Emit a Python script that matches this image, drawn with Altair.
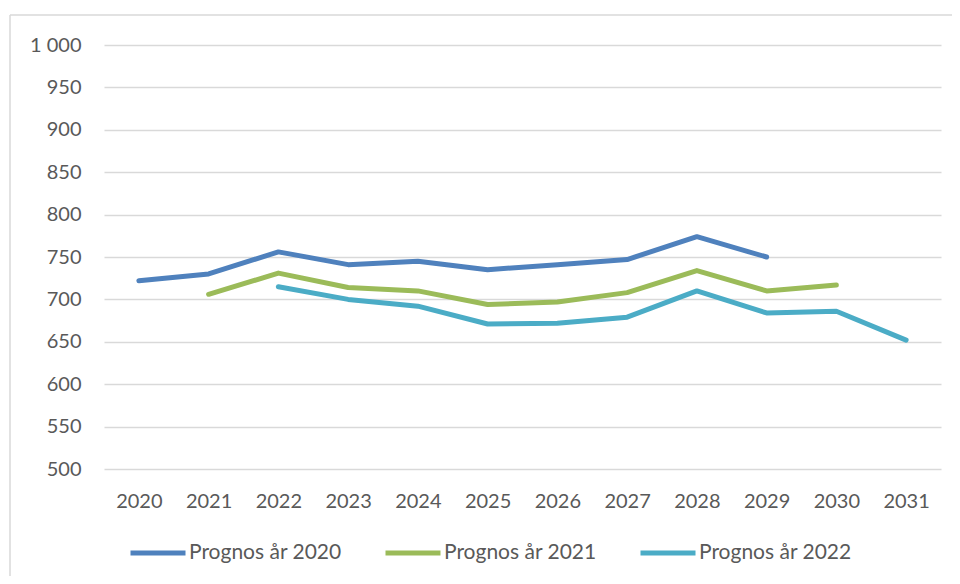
import altair as alt
import pandas as pd

years = ["2020", "2021", "2022", "2023", "2024", "2025", "2026", "2027", "2028", "2029", "2030", "2031"]
series_names = ["Prognos år 2020", "Prognos år 2021", "Prognos år 2022"]
prognos_2020 = [722, 730, 756, 741, 745, 735, 741, 747, 774, 750, None, None]
prognos_2021 = [None, 706, 731, 714, 710, 694, 697, 708, 734, 710, 717, None]
prognos_2022 = [None, None, 715, 700, 692, 671, 672, 679, 710, 684, 686, 652]
colors = ["#4F81BD", "#9BBB59", "#4BACC6"]

rows = []
for name, vals in zip(series_names, [prognos_2020, prognos_2021, prognos_2022]):
    for y, v in zip(years, vals):
        if v is not None:
            rows.append({"År": y, "Värde": v, "Serie": name})
df = pd.DataFrame(rows)

FONT = "Lato"
TXT = "#595959"
GRID = "#D9D9D9"

lines = alt.Chart(df).mark_line(
    strokeWidth=5, strokeCap="round", strokeJoin="round"
).encode(
    x=alt.X("År:O", sort=years,
            scale=alt.Scale(type="point", domain=years, padding=0.5),
            axis=alt.Axis(title=None, labelAngle=0, ticks=False, tickSize=0, domain=False,
                          grid=False, labelPadding=22, labelFontSize=20, labelFont=FONT,
                          labelColor=TXT, labelBaseline="top")),
    y=alt.Y("Värde:Q",
            scale=alt.Scale(domain=[500, 1000], nice=False, zero=False),
            axis=alt.Axis(title=None, values=list(range(500, 1001, 50)), ticks=False, tickSize=0,
                          domain=False, grid=True, gridColor=GRID, gridWidth=1.5,
                          labelPadding=23, labelFontSize=20, labelFont=FONT, labelColor=TXT,
                          labelExpr="replace(format(datum.value, ','), ',', ' ')")),
    color=alt.Color("Serie:N", sort=series_names,
                    scale=alt.Scale(domain=series_names, range=colors),
                    legend=alt.Legend(title=None, orient="none", legendX=24, legendY=478,
                                      direction="horizontal", symbolType="stroke",
                                      symbolSize=3025, symbolStrokeWidth=5, labelOffset=1,
                                      columnPadding=33, labelFontSize=21, labelFont=FONT,
                                      labelColor=TXT)),
)

frame = alt.Data(values=[{}])
border_top = alt.Chart(frame).mark_rule(stroke=GRID, strokeWidth=1.5).encode(
    x=alt.value(-94), x2=alt.value(1000), y=alt.value(-30)
)
border_left = alt.Chart(frame).mark_rule(stroke=GRID, strokeWidth=1.5).encode(
    x=alt.value(-94), y=alt.value(-30), y2=alt.value(700)
)

chart = alt.layer(border_top, border_left, lines).properties(
    width=837, height=424,
    autosize=alt.AutoSizeParams(type="none"),
    padding={"left": 96, "top": 37, "right": 11, "bottom": 107},
).configure_view(stroke=None)

chart.save("out.html", embed_options={"renderer": "svg", "actions": False})
